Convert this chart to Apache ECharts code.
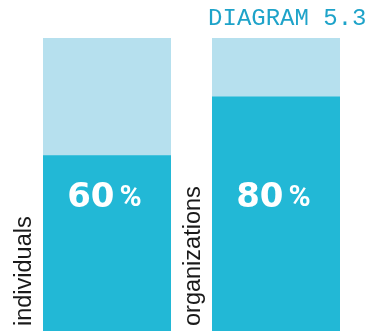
<!DOCTYPE html>
<html>
<head>
<meta charset="utf-8">
<style>
  html, body { margin: 0; padding: 0; background: #ffffff; }
  #chart { width: 367px; height: 331px; }
</style>
<script src="https://cdn.jsdelivr.net/npm/echarts@6/dist/echarts.min.js"></script>
</head>
<body>
<div id="chart"></div>
<script>
// Share of each group, out of a full column of 100
const categories = ['individuals', 'organizations'];
const values = [60, 80];
const totals = [100, 100];
const titleText = 'DIAGRAM 5.3';

const LIGHT = '#b6e0ee';
const DARK = '#22b8d6';
const TITLE = '#1ea3c9';

const chart = echarts.init(document.getElementById('chart'), null, { renderer: 'canvas' });

chart.setOption({
  animation: false,
  backgroundColor: '#ffffff',
  title: {
    text: titleText,
    right: 0.5,
    top: 7,
    padding: 0,
    textStyle: {
      fontFamily: 'Liberation Mono',
      fontSize: 24,
      fontWeight: 'normal',
      color: TITLE
    }
  },
  grid: { left: 22.5, right: 6.5, top: 38, bottom: 0, containLabel: false },
  xAxis: {
    type: 'category',
    data: categories,
    show: false
  },
  yAxis: {
    type: 'value',
    min: 0,
    max: 100,
    show: false
  },
  series: [
    {
      // full column (100%) in the light tint
      name: 'total',
      type: 'bar',
      data: totals,
      barWidth: 128,
      barGap: '-100%',
      itemStyle: { color: LIGHT },
      z: 2
    },
    {
      // the share itself, with the group name running up its left side
      name: 'share',
      type: 'bar',
      data: values,
      barWidth: 128,
      barGap: '-100%',
      itemStyle: { color: DARK },
      z: 3,
      label: {
        show: true,
        position: 'insideBottomLeft',
        distance: 0,
        offset: [5, -18],
        rotate: 90,
        align: 'left',
        verticalAlign: 'middle',
        formatter: '{b}',
        fontFamily: 'Liberation Sans',
        fontSize: 23.5,
        color: '#1a1a1a'
      }
    },
    {
      // clear overlay on the full column, holding the percentage text at a common height
      name: 'shareText',
      type: 'bar',
      data: totals,
      barWidth: 128,
      barGap: '-100%',
      silent: true,
      itemStyle: { color: 'rgba(0,0,0,0)' },
      z: 4,
      label: {
        show: true,
        position: ['48%', 160],
        align: 'center',
        verticalAlign: 'middle',
        formatter: p => '{d|' + values[p.dataIndex] + '}{p|%}',
        rich: {
          d: {
            fontFamily: 'DejaVu Sans',
            fontWeight: 'bold',
            fontSize: 34,
            lineHeight: 36,
            color: '#ffffff',
            verticalAlign: 'middle'
          },
          p: {
            fontFamily: 'Roboto',
            fontWeight: 'bold',
            fontSize: 30,
            lineHeight: 36,
            color: '#ffffff',
            verticalAlign: 'middle',
            padding: [0, 0, 0, 5]
          }
        }
      }
    }
  ]
});
</script>
</body>
</html>
